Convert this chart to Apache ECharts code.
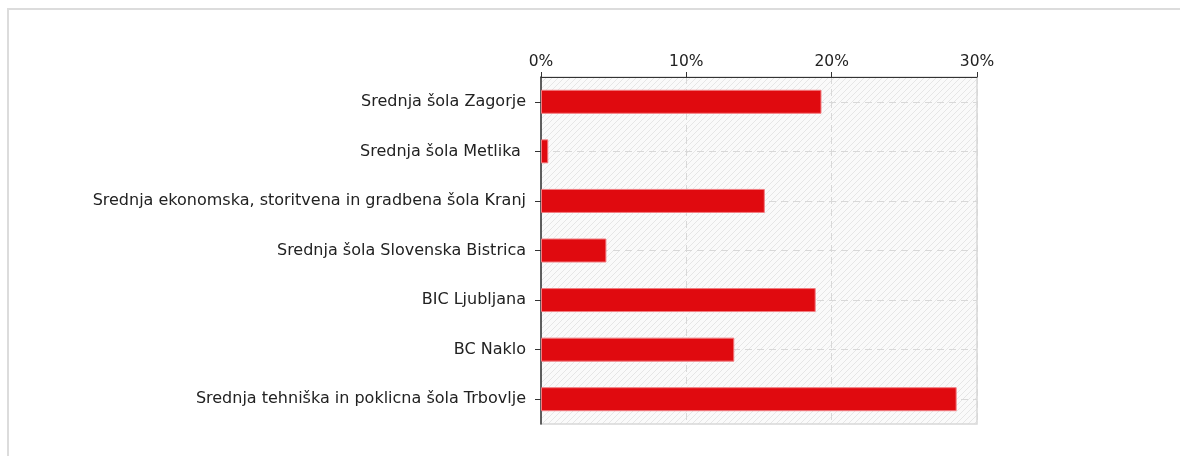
<!DOCTYPE html>
<html>
<head>
<meta charset="utf-8">
<script src="https://cdn.jsdelivr.net/npm/echarts@6/dist/echarts.min.js"></script>
<style>
  html, body { margin: 0; padding: 0; background: #fff; overflow: hidden; }
  #chart { width: 1180px; height: 456px; }
</style>
</head>
<body>
<div id="chart"></div>
<script>
const schools = [
  'Srednja šola Zagorje',
  'Srednja šola Metlika ',
  'Srednja ekonomska, storitvena in gradbena šola Kranj',
  'Srednja šola Slovenska Bistrica',
  'BIC Ljubljana',
  'BC Naklo',
  'Srednja tehniška in poklicna šola Trbovlje',
]
const shares = [19.3, 0.5, 15.4, 4.5, 18.9, 13.3, 28.6]
const tickValues = [0, 10, 20, 30]

// diagonal hatch for the plot background
const hatch = document.createElement('canvas')
hatch.width = 6
hatch.height = 6
const ctx = hatch.getContext('2d')
ctx.fillStyle = '#fafafa'
ctx.fillRect(0, 0, 6, 6)
ctx.strokeStyle = '#e6e6e6'
ctx.lineWidth = 1
ctx.beginPath()
ctx.moveTo(0, 6)
ctx.lineTo(6, 0)
ctx.moveTo(-3, 3)
ctx.lineTo(3, -3)
ctx.moveTo(3, 9)
ctx.lineTo(9, 3)
ctx.stroke()

const chart = echarts.init(document.getElementById('chart'))
chart.setOption({
  animation: false,
  textStyle: { fontFamily: 'DejaVu Sans' },
  // outer panel edge (only top and left are in view)
  graphic: [
    {
      type: 'polyline',
      silent: true,
      shape: { points: [[8, 470], [8, 9], [1200, 9]] },
      style: { stroke: '#dcdcdc', lineWidth: 2, fill: null },
    },
  ],
  grid: {
    left: 541,
    top: 77,
    right: 203,
    bottom: 32,
    show: true,
    backgroundColor: { image: hatch, repeat: 'repeat' },
    borderColor: '#d8d8d8',
    borderWidth: 1.5,
  },
  xAxis: {
    type: 'value',
    position: 'top',
    min: tickValues[0],
    max: tickValues[tickValues.length - 1],
    interval: 10,
    axisLine: { show: true, lineStyle: { color: '#333', width: 1 } },
    axisTick: { show: true, length: 5, lineStyle: { color: '#333' } },
    axisLabel: {
      color: '#222',
      fontSize: 15.5,
      margin: 7,
      formatter: v => v + '%',
    },
    splitLine: {
      show: true,
      lineStyle: { color: '#d8d8d8', type: [7, 5] },
    },
  },
  yAxis: {
    type: 'category',
    inverse: true,
    data: schools,
    axisLine: { show: true, lineStyle: { color: '#333', width: 1.5 } },
    axisTick: { show: true, alignWithLabel: true, length: 6, lineStyle: { color: '#333' } },
    axisLabel: { color: '#222', fontSize: 16, margin: 15 },
    splitLine: { show: false },
  },
  series: [
    {
      type: 'bar',
      data: shares,
      barWidth: 24,
      itemStyle: {
        color: '#e00a0f',
        borderColor: '#f27c80',
        borderWidth: 1,
      },
      markLine: {
        silent: true,
        z: 1,
        symbol: ['none', 'none'],
        label: { show: false },
        lineStyle: { color: '#d8d8d8', type: [7, 5], width: 1 },
        data: schools.map(s => ({ yAxis: s })),
      },
    },
  ],
})
</script>
</body>
</html>
